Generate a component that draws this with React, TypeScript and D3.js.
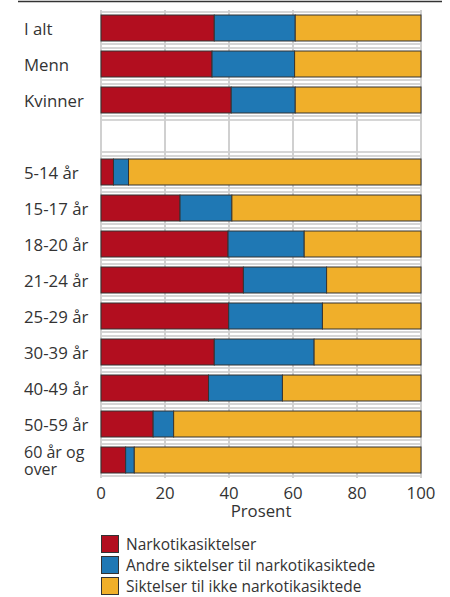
import React from 'react';
import * as d3 from 'd3';

// categories (blank entry is the empty spacer row)
const categories = ['I alt', 'Menn', 'Kvinner', 'blank', '5-14 år', '15-17 år', '18-20 år', '21-24 år', '25-29 år', '30-39 år', '40-49 år', '50-59 år', '60 år og over'];
const narkotika = [35.4, 34.7, 40.7, 0, 3.9, 24.7, 39.7, 44.5, 39.9, 35.4, 33.6, 16.3, 7.7];
const andre = [25.3, 25.8, 20.0, 0, 4.7, 16.2, 23.8, 26.0, 29.3, 31.2, 23.1, 6.4, 2.7];
const ikke = [39.3, 39.5, 39.3, 0, 91.4, 59.1, 36.5, 29.5, 30.8, 33.4, 43.3, 77.3, 89.6];

const seriesNames = ['Narkotikasiktelser', 'Andre siktelser til narkotikasiktede', 'Siktelser til ikke narkotikasiktede'];
const seriesColors = ['#b20e1f', '#1f78b4', '#f0af2a'];
const xTicks = [0, 20, 40, 60, 80, 100];

const W = 450;
const H = 597;
const font = '"Open Sans", "Noto Sans", sans-serif';
const fs = 16.8;

const App: React.FC = () => {
  const x = d3.scaleLinear().domain([0, 100]).range([101, 421]);
  const y = d3
    .scaleBand<string>()
    .domain(categories)
    .range([10, 478])
    .paddingInner(10 / 36)
    .paddingOuter(5 / 36);

  const rows = categories.map((c, i) => {
    const vals = [narkotika[i], andre[i], ikke[i]];
    let acc = 0;
    const segs = vals.map((v, k) => {
      const s = { x0: acc, x1: acc + v, color: seriesColors[k] };
      acc += v;
      return s;
    });
    return { cat: c, segs, blank: c === 'blank' };
  });

  const bw = y.bandwidth();

  return (
    <svg width={W} height={H} style={{ position: 'absolute', left: 0, top: 0 }} fontFamily={font}>
      <rect width={W} height={H} fill="#fff" />
      <line x1={18} x2={442} y1={1.5} y2={1.5} stroke="#333" strokeWidth={1.5} />

      {/* horizontal grid */}
      {categories.map(c => {
        const top = y(c) ?? 0;
        return (
          <g key={`hg-${c}`}>
            <line x1={x(0)} x2={x(100)} y1={top - 3} y2={top - 3} stroke="#d6d6d6" strokeWidth={2} />
            <line x1={x(0)} x2={x(100)} y1={top + bw + 3} y2={top + bw + 3} stroke="#d6d6d6" strokeWidth={2} />
          </g>
        );
      })}
      {/* vertical grid */}
      {xTicks.map(t => (
        <line key={`vg-${t}`} x1={x(t)} x2={x(t)} y1={10} y2={478} stroke="#d0d0d0" strokeWidth={2} />
      ))}

      {rows.map(r =>
        r.blank ? null : (
          <g key={`bar-${r.cat}`}>
            {r.segs.map((s, k) => (
              <rect
                key={k}
                x={x(s.x0)}
                y={y(r.cat)}
                width={x(s.x1) - x(s.x0)}
                height={bw}
                fill={s.color}
                stroke="#333"
                strokeWidth={1}
              />
            ))}
          </g>
        )
      )}

      {/* category labels */}
      {categories.map(c => {
        if (c === 'blank') return null;
        const cy = (y(c) ?? 0) + bw / 2;
        if (c === '60 år og over') {
          return (
            <text key={`lab-${c}`} x={24} y={cy} fontSize={16} fill="#333">
              <tspan x={24} dy={-2}>60 år og</tspan>
              <tspan x={24} dy={16.5}>over</tspan>
            </text>
          );
        }
        return (
          <text key={`lab-${c}`} x={24} y={cy} fontSize={fs} fill="#333" dominantBaseline="central">
            {c}
          </text>
        );
      })}

      {/* x axis */}
      {xTicks.map(t => (
        <text key={`xt-${t}`} x={x(t)} y={492} fontSize={fs} fill="#333" textAnchor="middle" dominantBaseline="central">
          {t}
        </text>
      ))}
      <text x={(x(0) + x(100)) / 2} y={510} fontSize={fs} fill="#333" textAnchor="middle" dominantBaseline="central">
        Prosent
      </text>

      {/* legend */}
      {seriesNames.map((n, i) => (
        <g key={`lg-${i}`} transform={`translate(101, ${535.5 + i * 21})`}>
          <rect x={0.5} y={0} width={17} height={17} fill={seriesColors[i]} stroke="#333" strokeWidth={1} />
          <text x={25} y={8.5} fontSize={15.5} fill="#333" dominantBaseline="central">
            {n}
          </text>
        </g>
      ))}
    </svg>
  );
};

export default App;
